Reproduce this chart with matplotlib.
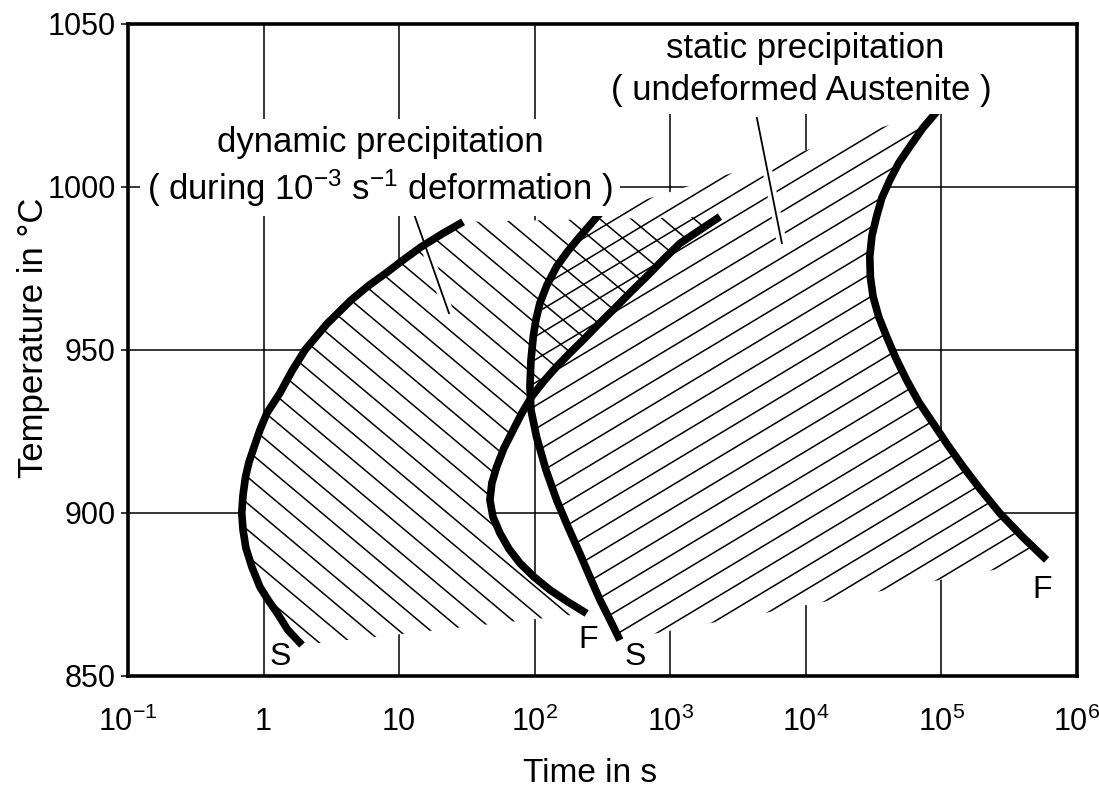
import matplotlib
matplotlib.use('Agg')
import matplotlib.pyplot as plt
import matplotlib.patheffects as pe
from matplotlib.patches import Polygon
from matplotlib.collections import LineCollection
from matplotlib.ticker import NullLocator
import numpy as np

plt.rcParams['font.family'] = ['Liberation Sans', 'DejaVu Sans']
plt.rcParams['mathtext.default'] = 'regular'

# --------------------------------------------------
# DATA (time in s, temperature in deg C)
# --------------------------------------------------

# dynamic precipitation, start (S) - bottom to top
dyn_start_time = [1.92, 1.51, 1.26, 1.08, 0.94, 0.82, 0.74, 0.705, 0.69, 0.705, 0.735,
                  0.78, 0.85, 0.94, 1.06, 1.32, 1.62, 2.02, 2.93, 4.42, 5.89, 8.0,
                  10.7, 14.5, 20.7, 29.6]
dyn_start_temp = [859.5, 864.1, 869.3, 873.3, 877.3, 883.4, 889.3, 894.8, 900.0, 905.5, 911.0,
                  915.6, 920.2, 925.5, 930.7, 936.8, 943.6, 950.0, 958.0, 965.3, 969.6, 973.6,
                  977.6, 981.6, 985.6, 989.3]

# dynamic precipitation, finish (F) - top to bottom
dyn_finish_time = [2323, 1652, 1178, 881, 668, 503, 379, 292, 228, 182, 145, 117, 94.9,
                   80.5, 69.4, 59.3, 52.4, 48.3, 46.7, 49.2, 55.4, 64.5, 77.8, 98.6,
                   129.5, 176, 241.5]
dyn_finish_temp = [990.9, 986.8, 982.7, 977.6, 972.5, 967.5, 962.3, 957.7, 953.1, 949.1, 944.9, 940.5, 935.7,
                   930.7, 925.5, 919.9, 914.2, 909.2, 904.0, 898.8, 893.8, 889.0, 884.6, 880.4,
                   876.4, 872.7, 869.2]

# static precipitation, start (S) - top to bottom
stat_start_time = [302.6, 255, 215.4, 176, 145, 123, 109, 102, 97.5, 93.8, 92.2, 93.8,
                   103, 121, 145, 176, 215, 255, 303, 359, 425]
stat_start_temp = [991.9, 988.3, 984.8, 980.4, 975.6, 969.9, 964.3, 959.2, 954.1, 946.9, 938.7, 931.6,
                   923.4, 913.2, 904.0, 895.7, 887.6, 880.4, 873.3, 867.2, 861.0]

# static precipitation, finish (F) - top to bottom
stat_finish_time = [94600, 73000, 58500, 48500, 41600, 36300, 33200, 30700, 29600, 29900,
                    31300, 34500, 39400, 46100, 55300, 68100, 86900, 111000, 144500,
                    195000, 270000, 398000, 596000]
stat_finish_temp = [1023.6, 1018.1, 1012.4, 1007.4, 1002.1, 996.6, 990.9, 985.0, 978.6, 972.4,
                    966.4, 960.1, 954.1, 947.5, 940.8, 934.0, 927.5, 920.9, 914.2,
                    907.1, 899.9, 892.6, 885.6]

xticks = [1e-1, 1, 10, 1e2, 1e3, 1e4, 1e5, 1e6]
xtick_labels = ['$10^{-1}$', '1', '10', '$10^{2}$', '$10^{3}$', '$10^{4}$', '$10^{5}$', '$10^{6}$']
yticks = [850, 900, 950, 1000, 1050]

# --------------------------------------------------
# FIGURE
# --------------------------------------------------

fig = plt.figure(figsize=(10.99, 7.91), dpi=100)
ax = fig.add_axes([0.1165, 0.1454, 0.8635, 0.8243])

ax.set_xscale('log')
ax.set_xlim(1e-1, 1e6)
ax.set_ylim(850, 1050)
ax.xaxis.set_minor_locator(NullLocator())
ax.set_xticks(xticks)
ax.set_xticklabels(xtick_labels)
ax.set_yticks(yticks)
ax.tick_params(labelsize=22)
ax.tick_params(axis='x', length=0, pad=22)
ax.tick_params(axis='y', length=5, width=1.1, direction='out', pad=4)

for s in ax.spines.values():
    s.set_linewidth(2.6)
    s.set_zorder(10)

ax.set_axisbelow(True)
ax.grid(True, color='black', linewidth=1.1)

ax.set_xlabel('Time in s', fontsize=24)
ax.xaxis.set_label_coords(0.487, -0.149)
ax.xaxis.label.set_va('center')
ax.set_ylabel('Temperature in °C', fontsize=25)
ax.yaxis.set_label_coords(-0.1, 0.519)
ax.yaxis.label.set_va('center')

# --------------------------------------------------
# REGIONS (white out grid, then hatch)
# --------------------------------------------------

dyn_xy = np.column_stack([dyn_start_time + dyn_finish_time,
                          dyn_start_temp + dyn_finish_temp])
stat_xy = np.column_stack([stat_finish_time + stat_start_time[::-1],
                           stat_finish_temp + stat_start_temp[::-1]])

dyn_patch = Polygon(dyn_xy, closed=True, facecolor='white', edgecolor='none', zorder=1)
stat_patch = Polygon(stat_xy, closed=True, facecolor='white', edgecolor='none', zorder=1)
ax.add_patch(dyn_patch)
ax.add_patch(stat_patch)

W = fig.get_figwidth() * fig.dpi * ax.get_position().width
H = fig.get_figheight() * fig.dpi * ax.get_position().height


def hatch_segments(angle, spacing, phase):
    th = np.radians(angle)
    d = np.array([np.cos(th), np.sin(th)])
    n = np.array([-np.sin(th), np.cos(th)])
    L = np.hypot(W, H)
    segs = []
    k0 = int(np.floor((-L - phase) / spacing))
    k1 = int(np.ceil((L - phase) / spacing))
    for k in range(k0, k1 + 1):
        c = phase + k * spacing
        p0 = c * n - L * d
        p1 = c * n + L * d
        segs.append([(p0[0] / W, p0[1] / H), (p1[0] / W, p1[1] / H)])
    return segs


dyn_hatch = LineCollection(hatch_segments(-40, 20.2, 7), colors='black',
                           linewidths=1.1, transform=ax.transAxes, zorder=2)
dyn_hatch.set_clip_path(dyn_patch)
ax.add_collection(dyn_hatch)

stat_hatch = LineCollection(hatch_segments(31, 19.8, 2), colors='black',
                            linewidths=1.1, transform=ax.transAxes, zorder=2)
stat_hatch.set_clip_path(stat_patch)
ax.add_collection(stat_hatch)

# --------------------------------------------------
# CURVES
# --------------------------------------------------

for t, T in [(dyn_start_time, dyn_start_temp), (dyn_finish_time, dyn_finish_temp),
             (stat_start_time, stat_start_temp), (stat_finish_time, stat_finish_temp)]:
    ax.plot(t, T, color='black', linewidth=5.5, solid_joinstyle='round',
            solid_capstyle='butt', zorder=4)

# leader lines
halo = [pe.withStroke(linewidth=7, foreground='white')]
ax.plot([12.4, 23.3], [993.6, 961.3], color='black', linewidth=1.3,
        path_effects=halo, zorder=3)
ax.plot([4350, 6650], [1021.2, 982.8], color='black', linewidth=1.3,
        path_effects=halo, zorder=3)

# --------------------------------------------------
# LABELS
# --------------------------------------------------

box = dict(facecolor='white', edgecolor='none', pad=5)
ax.text(7.2, 1010.7, 'dynamic precipitation', ha='center', va='baseline',
        fontsize=25, bbox=box, zorder=6)
ax.text(7.2, 996.0, '( during $10^{-3}$ $s^{-1}$ deformation )', ha='center', va='baseline',
        fontsize=25, bbox=box, zorder=6)
ax.text(9840, 1039.6, 'static precipitation', ha='center', va='baseline',
        fontsize=25, bbox=box, zorder=6)
ax.text(9190, 1026.7, '( undeformed Austenite )', ha='center', va='baseline',
        fontsize=25, bbox=box, zorder=6)

ax.text(1.33, 855.9, 'S', ha='center', va='center', fontsize=23, zorder=6)
ax.text(247, 861.0, 'F', ha='center', va='center', fontsize=23, zorder=6)
ax.text(548, 855.8, 'S', ha='center', va='center', fontsize=23, zorder=6)
ax.text(550000, 876.4, 'F', ha='center', va='center', fontsize=23, zorder=6)

fig.savefig('out.png', dpi=100, facecolor='white')
